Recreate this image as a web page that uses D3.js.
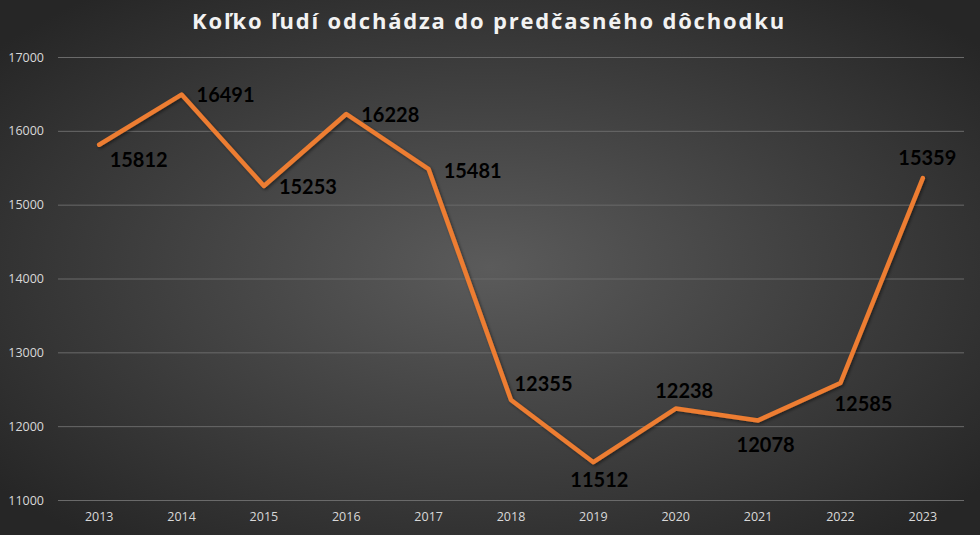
<!DOCTYPE html>
<html><head><meta charset="utf-8">
<script src="https://cdn.jsdelivr.net/npm/d3@7"></script>
<style>html,body{margin:0;padding:0;background:#333;}svg{display:block;}</style>
</head><body>
<svg id="c" width="980" height="535"></svg>
<script>
const titleText = "Koľko ľudí odchádza do predčasného dôchodku";
const years = ["2013","2014","2015","2016","2017","2018","2019","2020","2021","2022","2023"];
const values = [15812,16491,15253,16228,15481,12355,11512,12238,12078,12585,15359];
const yTicks = [11000,12000,13000,14000,15000,16000,17000];
// label offsets (label centre relative to point)
const labelDx = [39.5,44,44,44,44,32.5,6,8.5,7.5,23,4.5];
const labelDy = [15.5,0.5,0.5,1,1.5,-16.5,17.5,-18,24,21,-20];

const W = 980, H = 535;
const svg = d3.select("#c");
const defs = svg.append("defs");
const rg = defs.append("radialGradient").attr("id","bg")
  .attr("cx","50%").attr("cy","50%").attr("r","65%");
rg.append("stop").attr("offset","0%").attr("stop-color","#5b5b5b");
rg.append("stop").attr("offset","100%").attr("stop-color","#262626");
const f = defs.append("filter").attr("id","sh").attr("x","-5%").attr("y","-5%").attr("width","110%").attr("height","110%");
f.append("feDropShadow").attr("dx",1.5).attr("dy",1.5).attr("stdDeviation",1.5).attr("flood-color","#000").attr("flood-opacity",0.45);

svg.append("rect").attr("width",W).attr("height",H).attr("fill","url(#bg)");

const x = d3.scaleBand().domain(years).range([58,964]);
const y = d3.scaleLinear().domain([11000,17000]).range([500,57]);
const cx = d => x(d) + x.bandwidth()/2;

// gridlines
const yAxis = d3.axisLeft(y).tickValues(yTicks).tickSize(-(964-58)).tickFormat(d3.format("d"));
const gy = svg.append("g").attr("transform","translate(58,0)").call(yAxis);
gy.select(".domain").remove();
gy.selectAll(".tick line").attr("stroke","#6a6a6a").attr("stroke-width",1);
gy.selectAll(".tick text").attr("x",-14).attr("fill","#d9d9d9")
  .style("font-family","'Open Sans', sans-serif").style("font-size","12.5px");

const xAxis = d3.axisBottom(x).tickSize(0);
const gx = svg.append("g").attr("transform","translate(0,500)").call(xAxis);
gx.select(".domain").remove();
gx.selectAll(".tick text").attr("y",12).attr("fill","#d9d9d9")
  .style("font-family","'Open Sans', sans-serif").style("font-size","12.5px");

// line
const line = d3.line().x((d,i)=>cx(years[i])).y(d=>y(d));
svg.append("path").datum(values).attr("d",line)
  .attr("fill","none").attr("stroke","#ED7D31").attr("stroke-width",4.5)
  .attr("stroke-linejoin","round").attr("stroke-linecap","round")
  .attr("filter","url(#sh)");

// labels
svg.append("g").selectAll("text").data(values).join("text")
  .attr("x",(d,i)=>cx(years[i])+labelDx[i])
  .attr("y",(d,i)=>y(d)+labelDy[i])
  .attr("dy","0.36em")
  .attr("text-anchor","middle")
  .attr("fill","#000")
  .style("font-family","Lato, sans-serif").style("font-weight","bold").style("font-size","20px")
  .text(d=>d);

// title
const t = svg.append("text").attr("x",489).attr("y",29).attr("text-anchor","middle")
  .attr("fill","#f2f2f2")
  .style("font-family","'Open Sans', sans-serif").style("font-weight","bold").style("font-size","22px")
  .text(titleText);
const w = t.node().getComputedTextLength();
const ls = (592 - w)/(titleText.length-1);
t.style("letter-spacing", ls+"px");
</script>
</body></html>
